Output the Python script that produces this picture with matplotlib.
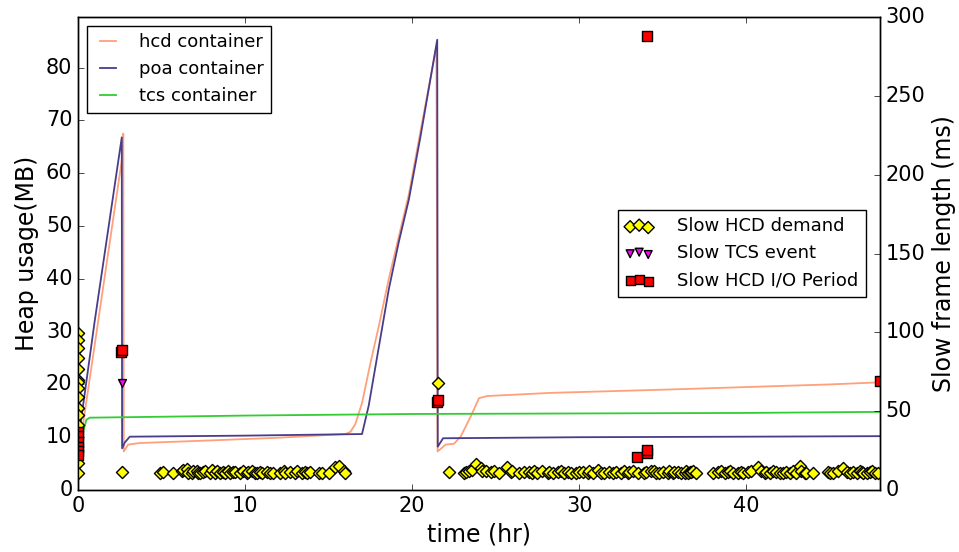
import matplotlib
matplotlib.use("Agg")
import matplotlib.pyplot as plt

# heap usage per container (hours, MB)
hcd_t = [0.0, 1.0, 2.6, 2.68, 2.71, 2.74, 3.0, 3.7, 8.0, 12.0, 16.0, 16.3, 16.6,
         17.0, 17.5, 18.0, 18.6, 19.2, 19.8, 20.5, 21.45, 21.52, 21.64, 22.0,
         22.5, 22.9, 23.5, 24.0, 24.5, 28.3, 35.0, 40.0, 45.0, 48.0]
hcd_mb = [6.0, 27.5, 62.0, 64.0, 67.5, 7.3, 8.6, 8.9, 9.4, 9.9, 10.6, 11.0, 12.5,
          16.5, 24.0, 31.0, 40.0, 48.0, 56.0, 68.0, 84.0, 7.3, 7.6, 8.6,
          8.75, 10.1, 13.9, 17.4, 17.8, 18.4, 19.0, 19.5, 20.0, 20.4]

poa_t = [0.0, 1.0, 2.62, 2.64, 2.8, 3.1, 10.0, 17.0, 17.4, 18.0, 18.6, 19.2,
         19.8, 20.5, 21.5, 21.53, 21.85, 30.0, 40.0, 48.0]
poa_mb = [9.0, 32.0, 66.8, 7.9, 9.0, 10.1, 10.3, 10.6, 16.0, 27.0, 38.0, 47.0,
          55.0, 67.0, 85.3, 8.2, 9.8, 10.0, 10.1, 10.2]

tcs_t = [0.0, 0.32, 0.5, 0.7, 5.5, 10.0, 20.0, 30.0, 40.0, 48.0]
tcs_mb = [11.0, 11.1, 13.3, 13.7, 13.9, 14.1, 14.4, 14.5, 14.6, 14.8]

# slow frames (hours, ms)
demand_t = [0, 0, 0, 0, 0, 0, 0, 0, 0, 0, 0, 0, 0, 0,
            2.62,
            4.9, 5.1, 5.7, 6.2, 6.3, 6.5, 6.6, 6.8, 6.9, 7.1, 7.2, 7.3, 7.5, 7.6,
            7.9, 8.0, 8.2, 8.3, 8.5, 8.7, 8.8, 9.0, 9.1, 9.3, 9.4, 9.7, 9.9, 10.1,
            10.2, 10.4, 10.6, 10.7, 10.9, 11.0, 11.3, 11.5, 11.7, 12.1, 12.3, 12.4,
            12.7, 13.0, 13.1, 13.4, 13.6, 13.7, 13.9, 14.4, 14.6, 15.0, 15.4, 15.6,
            15.9, 16.0,
            21.52,
            22.2, 23.1, 23.2, 23.4, 23.6, 23.8, 24.1, 24.2, 24.4, 24.7, 24.9, 25.2,
            25.7, 25.9, 26.0, 26.4, 26.7, 27.0, 27.2, 27.3, 27.5, 27.8, 28.1, 28.2,
            28.4, 28.7, 28.9, 29.1, 29.3, 29.5, 29.8, 30.0, 30.2, 30.5, 30.6, 30.8,
            31.1, 31.3, 31.5, 31.8, 32.0, 32.2, 32.5, 32.7, 32.9, 33.0, 33.2, 33.5,
            33.9, 34.0, 34.3, 34.5, 34.6, 34.8, 35.0, 35.3, 35.4, 35.6, 35.7, 35.9,
            36.1, 36.3, 36.4, 36.5, 36.6, 36.7, 36.8, 37.0,
            38.0, 38.3, 38.5, 38.7, 38.9, 39.0, 39.2, 39.5, 39.7, 39.8, 40.1, 40.3,
            40.7, 40.9, 41.1, 41.2, 41.4, 41.6, 41.8, 42.0, 42.2, 42.4, 42.6, 42.8,
            43.0, 43.2, 43.3, 43.5, 43.6, 44.0, 44.9, 45.0, 45.2, 45.5, 45.8, 46.0,
            46.2, 46.4, 46.6, 46.8, 46.9, 47.0, 47.2, 47.4, 47.5, 47.7, 47.9]
demand_ms = [99.5, 95, 90, 84, 77, 70, 68.5, 64.5, 59, 52, 47.5, 41, 17, 11,
             11.5,
             11, 11.5, 11, 12, 12.5, 13.5, 11, 11, 12, 12, 11, 11, 11.5, 12,
             11, 12.5, 11, 12, 11, 11.5, 11, 12, 11, 11.5, 11.5, 11, 12, 11,
             11.5, 12, 11, 11, 11.5, 11, 11.5, 11, 11, 11, 12, 11,
             11.5, 11, 12, 11, 11.5, 11, 11.5, 11, 11, 11, 14.5, 15.5,
             12, 11,
             67.7,
             11.5, 11, 11.5, 12, 13, 16.5, 14, 12, 12, 11.5, 12, 11,
             14.5, 11.5, 12, 11, 11.5, 11.5, 11, 12, 11, 12, 11, 11.5,
             11, 11.5, 12, 11, 11.5, 11, 11, 11.5, 11.5, 11, 12, 11,
             12.5, 11, 11, 11.5, 11, 11.5, 11, 12, 11, 11.5, 12, 11,
             11, 11.5, 12, 12, 11, 11, 11.5, 11, 12, 11, 11.5, 11.5,
             11, 11, 12, 11, 11.5, 11.5, 12, 11,
             11, 11.5, 12, 11, 11.5, 12, 11, 11, 11.5, 11, 11.5, 12,
             14.5, 12, 11, 11.5, 11, 12, 11.5, 11, 11, 11.5, 11, 12,
             11, 15.5, 12, 11, 11, 11, 11.5, 11, 11, 12, 14, 11.5,
             11, 11.5, 11, 12, 11.5, 11, 11, 11.5, 12, 11, 11]

tcs_event_t = [2.62]
tcs_event_ms = [68]

io_t = [0, 0, 0, 0, 0, 0, 2.6, 2.65, 21.5, 21.55, 33.45, 34.05, 34.05, 34.05, 48.0]
io_ms = [37, 34, 30.5, 27.5, 24.5, 22, 87.5, 88.5, 55.5, 57, 20.7, 23.3, 25.5, 288, 69]

plt.style.use("classic")

fig = plt.figure(figsize=(9.59, 5.52), dpi=100, facecolor="white")
ax = fig.add_axes([78 / 959, 62 / 552, 802 / 959, 473 / 552])

ax.plot(hcd_t, hcd_mb, color="#FFA07A", lw=1.3, label="hcd container")
ax.plot(poa_t, poa_mb, color="#483D8B", lw=1.3, label="poa container")
ax.plot(tcs_t, tcs_mb, color="#32CD32", lw=1.3, label="tcs container")
ax.set_xlim(0, 48)
ax.set_ylim(0, 89.6)
ax.set_yticks(range(0, 81, 10))
ax.tick_params(labelsize=15)
ax.set_xlabel("time (hr)", fontsize=17)
ax.set_ylabel("Heap usage(MB)", fontsize=17)
ax.legend(loc="upper left", fontsize=13, handlelength=1.5, handletextpad=1.0)

ax2 = ax.twinx()
ax2.scatter(demand_t, demand_ms, marker="D", s=38, c="yellow",
            edgecolors="black", label="Slow HCD demand")
ax2.scatter(tcs_event_t, tcs_event_ms, marker="v", s=32, c="magenta",
            edgecolors="black", label="Slow TCS event")
ax2.scatter(io_t, io_ms, marker="s", s=42, c="red",
            edgecolors="black", label="Slow HCD I/O Period")
ax2.set_xlim(0, 48)
ax2.set_ylim(0, 300)
ax2.tick_params(labelsize=15)
ax2.set_ylabel("Slow frame length (ms)", fontsize=17)
ax2.legend(loc="center right", fontsize=13, handlelength=1.6,
           handletextpad=1.3, borderaxespad=0.8)

fig.savefig("out.png", dpi=100, facecolor="white")
